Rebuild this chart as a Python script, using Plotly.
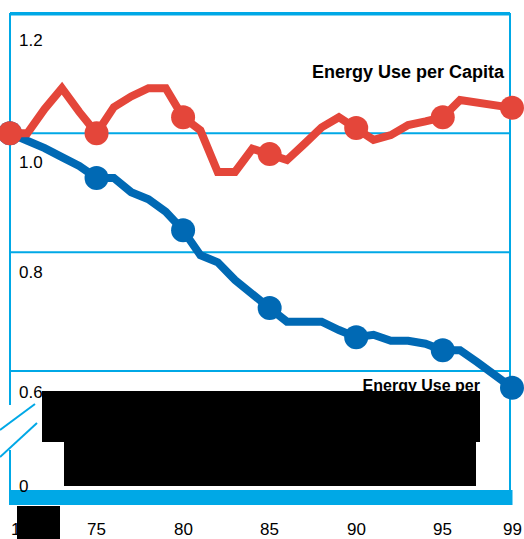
import plotly.graph_objects as go

# Index, 1970 = 1.0
years = list(range(1970, 2000))
per_capita = [1.000, 1.000, 1.041, 1.076, 1.036, 1.000, 1.044, 1.062, 1.076, 1.076,
              1.027, 1.005, 0.935, 0.935, 0.974, 0.965, 0.955, 0.982, 1.010, 1.027,
              1.009, 0.989, 0.997, 1.014, 1.020, 1.027, 1.056, 1.052, 1.048, 1.043]
per_gdp = [1.000, 0.989, 0.975, 0.960, 0.945, 0.925, 0.925, 0.901, 0.889, 0.868,
           0.837, 0.795, 0.783, 0.753, 0.728, 0.706, 0.683, 0.683, 0.683, 0.669,
           0.657, 0.661, 0.651, 0.651, 0.646, 0.635, 0.635, 0.615, 0.593, 0.572]
marker_years = [1970, 1975, 1980, 1985, 1990, 1995, 1999]

y_tick_vals = [1.2, 1.0, 0.8, 0.6]
y_tick_text = ["1.2", "1.0", "0.8", "0.6"]
y_label_shift = [-26, -29, -20, -21]
x_tick_vals = [1975, 1980, 1985, 1990, 1995, 1999]
x_tick_text = ["75", "80", "85", "90", "95", "99"]
first_year_label = "1970"

label_capita = "Energy Use per Capita"
label_gdp = "Energy Use per"

RED = "#E4463A"
BLUE = "#0069B4"
FRAME = "#00A8E6"
FONT = "Liberation Sans, Arial"

W, H = 524, 539
L, R, T, B = 10, 512, 13, 498          # plot area in pixels
FR = 510                               # right frame line
Y_RANGE = [0.3865, 1.2024]
UNIT = (B - T) / (Y_RANGE[1] - Y_RANGE[0])   # pixels per index unit


def px(x):
    return (x - L) / (R - L)


def py(y):
    return (B - y) / (B - T)


def yval(pix):
    return Y_RANGE[0] + (B - pix) / UNIT


fig = go.Figure()

for vals, color in [(per_gdp, BLUE), (per_capita, RED)]:
    fig.add_trace(go.Scatter(x=years, y=vals, mode="lines",
                             line=dict(color=color, width=8),
                             cliponaxis=False, hoverinfo="skip"))
    my = [vals[years.index(yr)] for yr in marker_years]
    fig.add_trace(go.Scatter(x=marker_years, y=my, mode="markers",
                             marker=dict(color=color, size=24, line=dict(width=0)),
                             cliponaxis=False, hoverinfo="skip"))

# series label for the lower line (sits under the black panel)
fig.add_trace(go.Scatter(x=[1997.15], y=[yval(387)], mode="text", text=[f"<b>{label_gdp}</b>"],
                         textposition="middle left", cliponaxis=False,
                         textfont=dict(family=FONT, size=16, color="black"),
                         hoverinfo="skip"))

shapes = []
line_kw = dict(color=FRAME, width=2)
# gridlines
for v in y_tick_vals:
    shapes.append(dict(type="line", xref="paper", yref="y", x0=px(L), x1=px(FR), y0=v, y1=v,
                       line=line_kw, layer="below"))
# frame
shapes.append(dict(type="line", xref="paper", yref="paper", x0=px(L), x1=px(FR), y0=py(T), y1=py(T), line=line_kw))
shapes.append(dict(type="line", xref="paper", yref="paper", x0=px(FR), x1=px(FR), y0=py(T), y1=py(490),
                   line=line_kw, layer="below"))
shapes.append(dict(type="line", xref="paper", yref="paper", x0=px(L), x1=px(L), y0=py(T), y1=py(405),
                   line=line_kw, layer="below"))
shapes.append(dict(type="line", xref="paper", yref="paper", x0=px(L), x1=px(L), y0=py(450), y1=py(490), line=line_kw))
# axis break marks
shapes.append(dict(type="line", xref="paper", yref="paper", x0=px(0), x1=px(35), y0=py(430), y1=py(404), line=line_kw))
shapes.append(dict(type="line", xref="paper", yref="paper", x0=px(0), x1=px(37), y0=py(457), y1=py(423), line=line_kw))
# baseline bar
shapes.append(dict(type="rect", xref="paper", yref="paper", x0=px(9), x1=px(512.5), y0=py(505), y1=py(490),
                   fillcolor=FRAME, line=dict(width=0), layer="above"))
# black panels
for x0, y0, x1, y1 in [(42, 391, 480, 442), (64, 441, 476, 486)]:
    shapes.append(dict(type="rect", xref="paper", yref="paper", x0=px(x0), x1=px(x1), y0=py(y1), y1=py(y0),
                       fillcolor="black", line=dict(width=0), layer="above"))

annotations = []
for v, t, s in zip(y_tick_vals, y_tick_text, y_label_shift):
    annotations.append(dict(x=px(17), xref="paper", y=v, yref="y", text=t, showarrow=False,
                            xanchor="left", yanchor="middle", yshift=s,
                            font=dict(family=FONT, size=17, color="black")))
annotations.append(dict(x=px(17), xref="paper", y=py(486), yref="paper", text="0", showarrow=False,
                        xanchor="left", yanchor="middle",
                        font=dict(family=FONT, size=17, color="black")))
for v, t in zip(x_tick_vals, x_tick_text):
    annotations.append(dict(x=v, xref="x", y=py(529), yref="paper", text=t, showarrow=False,
                            xanchor="center", yanchor="middle",
                            font=dict(family=FONT, size=17, color="black")))
# first year label, then the black panel laid over it
annotations.append(dict(x=px(10), xref="paper", y=py(529), yref="paper", text=first_year_label,
                        showarrow=False, xanchor="left", yanchor="middle", borderpad=0,
                        font=dict(family=FONT, size=17, color="black")))
annotations.append(dict(x=px(17), xref="paper", y=py(506), yref="paper", text=" ",
                        showarrow=False, xanchor="left", yanchor="top", width=43, height=33,
                        bgcolor="black", borderpad=0, borderwidth=0,
                        font=dict(family=FONT, size=10, color="black")))
annotations.append(dict(x=px(507), xref="paper", y=py(72), yref="paper", text=f"<b>{label_capita}</b>",
                        showarrow=False, xanchor="right", yanchor="middle",
                        font=dict(family=FONT, size=18, color="black")))

fig.update_layout(
    width=W, height=H,
    margin=dict(l=L, r=W - R, t=T, b=H - B, pad=0),
    paper_bgcolor="white", plot_bgcolor="white",
    showlegend=False,
    xaxis=dict(range=[1970, 1999], showgrid=False, zeroline=False, showticklabels=False,
               ticks="", showline=False, fixedrange=True),
    yaxis=dict(range=Y_RANGE, showgrid=False, zeroline=False, showticklabels=False,
               ticks="", showline=False, fixedrange=True),
    shapes=shapes,
    annotations=annotations,
)

fig.write_html("out.html", config={"displayModeBar": False})
